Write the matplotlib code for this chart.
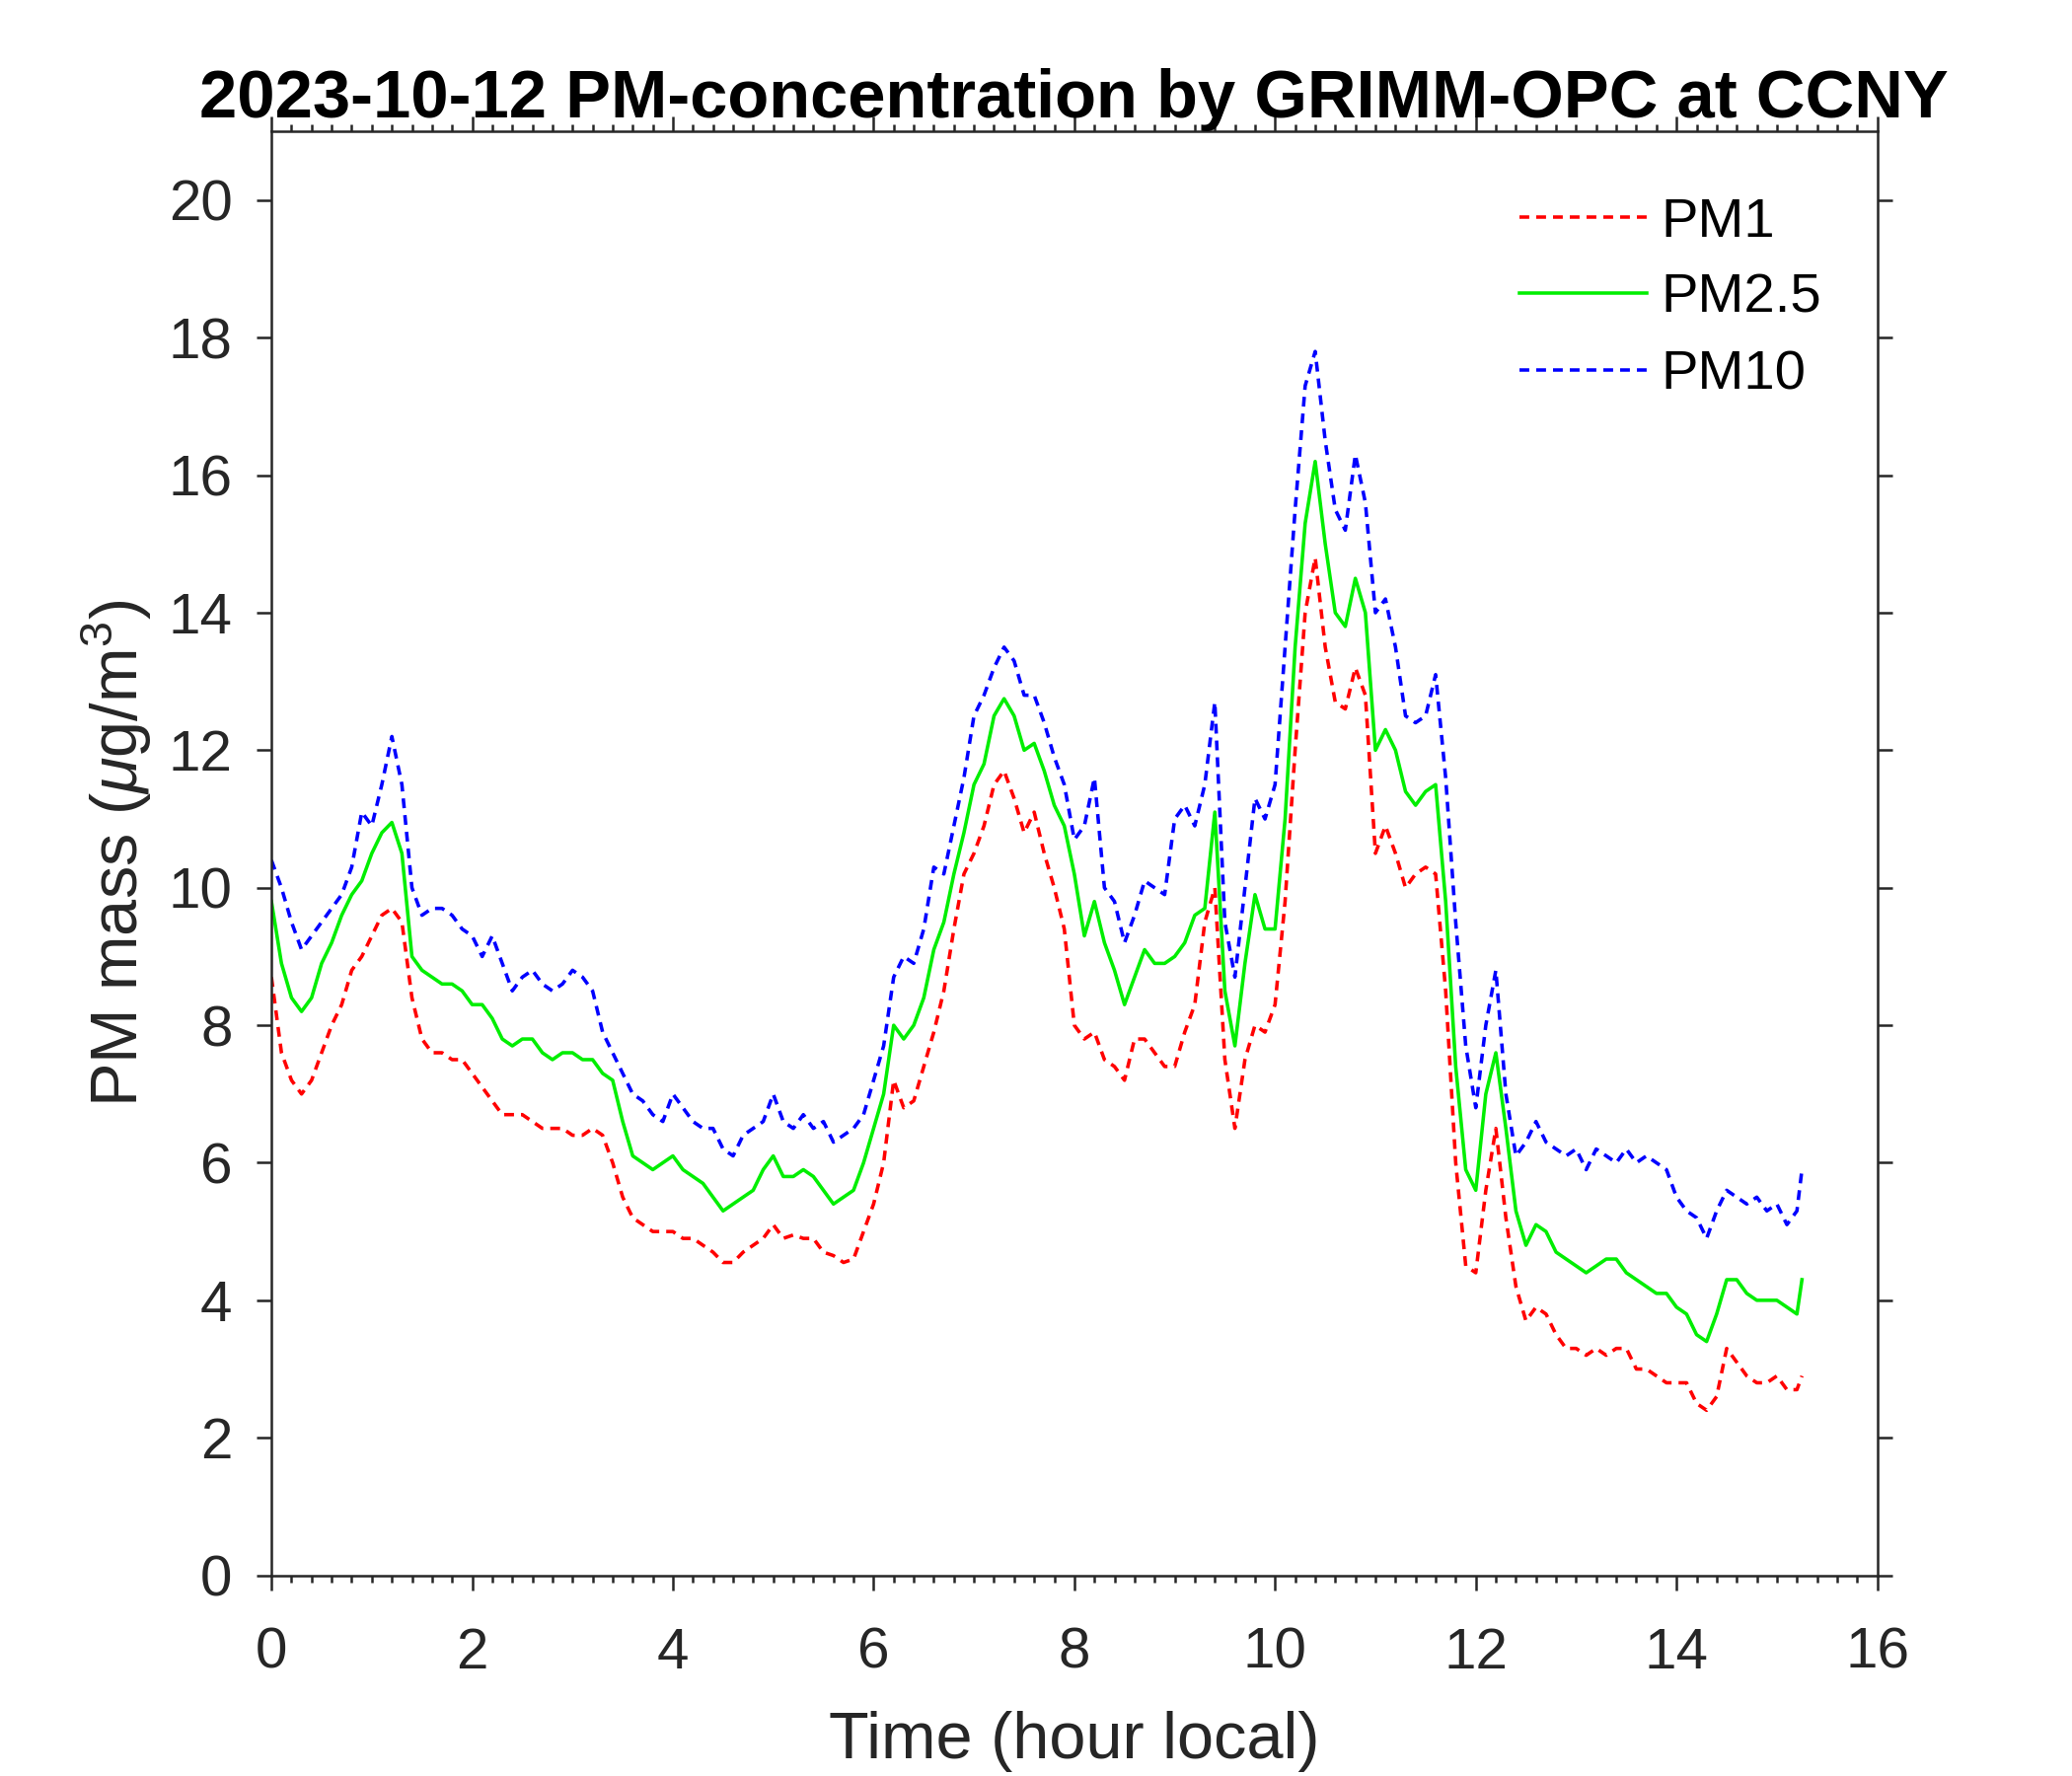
import numpy as np
import matplotlib
matplotlib.use("Agg")
import matplotlib.pyplot as plt
from matplotlib.ticker import MultipleLocator

plt.rcParams['font.family'] = ['Liberation Sans', 'DejaVu Sans']
plt.rcParams['mathtext.fontset'] = 'custom'
plt.rcParams['mathtext.rm'] = 'Liberation Sans'
plt.rcParams['mathtext.it'] = 'Liberation Sans:italic'

# time in hours (local), read every 0.1 h plus the last sample
hours = list(np.round(np.arange(0, 15.25, 0.1), 1)) + [15.25]

pm1 = [8.7, 7.6, 7.2, 7.0, 7.2, 7.6, 8.0, 8.3, 8.8, 9.0,
       9.3, 9.6, 9.7, 9.5, 8.4, 7.8, 7.6, 7.6, 7.5, 7.5,
       7.3, 7.1, 6.9, 6.7, 6.7, 6.7, 6.6, 6.5, 6.5, 6.5,
       6.4, 6.4, 6.5, 6.4, 6.0, 5.5, 5.2, 5.1, 5.0, 5.0,
       5.0, 4.9, 4.9, 4.8, 4.7, 4.55, 4.55, 4.7, 4.8, 4.9,
       5.1, 4.9, 4.95, 4.9, 4.9, 4.7, 4.65, 4.55, 4.6, 5.0,
       5.4, 6.0, 7.2, 6.8, 6.9, 7.4, 7.9, 8.5, 9.4, 10.2,
       10.5, 10.9, 11.5, 11.7, 11.3, 10.8, 11.1, 10.5, 10.0, 9.4,
       8.0, 7.8, 7.9, 7.5, 7.4, 7.2, 7.8, 7.8, 7.6, 7.4,
       7.4, 7.9, 8.3, 9.5, 10.0, 7.5, 6.5, 7.5, 8.0, 7.9,
       8.3, 9.8, 12.0, 14.0, 14.8, 13.5, 12.7, 12.6, 13.2, 12.8,
       10.5, 10.9, 10.5, 10.0, 10.2, 10.3, 10.2, 8.5, 6.0, 4.5,
       4.4, 5.6, 6.5, 5.2, 4.2, 3.7, 3.9, 3.8, 3.5, 3.3,
       3.3, 3.2, 3.3, 3.2, 3.3, 3.3, 3.0, 3.0, 2.9, 2.8,
       2.8, 2.8, 2.5, 2.4, 2.6, 3.3, 3.1, 2.9, 2.8, 2.8,
       2.9, 2.7, 2.7, 2.9]

pm25 = [9.8, 8.9, 8.4, 8.2, 8.4, 8.9, 9.2, 9.6, 9.9, 10.1,
        10.5, 10.8, 10.95, 10.5, 9.0, 8.8, 8.7, 8.6, 8.6, 8.5,
        8.3, 8.3, 8.1, 7.8, 7.7, 7.8, 7.8, 7.6, 7.5, 7.6,
        7.6, 7.5, 7.5, 7.3, 7.2, 6.6, 6.1, 6.0, 5.9, 6.0,
        6.1, 5.9, 5.8, 5.7, 5.5, 5.3, 5.4, 5.5, 5.6, 5.9,
        6.1, 5.8, 5.8, 5.9, 5.8, 5.6, 5.4, 5.5, 5.6, 6.0,
        6.5, 7.0, 8.0, 7.8, 8.0, 8.4, 9.1, 9.5, 10.2, 10.8,
        11.5, 11.8, 12.5, 12.75, 12.5, 12.0, 12.1, 11.7, 11.2, 10.9,
        10.2, 9.3, 9.8, 9.2, 8.8, 8.3, 8.7, 9.1, 8.9, 8.9,
        9.0, 9.2, 9.6, 9.7, 11.1, 8.5, 7.7, 8.9, 9.9, 9.4,
        9.4, 11.0, 13.5, 15.3, 16.2, 15.0, 14.0, 13.8, 14.5, 14.0,
        12.0, 12.3, 12.0, 11.4, 11.2, 11.4, 11.5, 9.8, 7.4, 5.9,
        5.6, 7.0, 7.6, 6.5, 5.3, 4.8, 5.1, 5.0, 4.7, 4.6,
        4.5, 4.4, 4.5, 4.6, 4.6, 4.4, 4.3, 4.2, 4.1, 4.1,
        3.9, 3.8, 3.5, 3.4, 3.8, 4.3, 4.3, 4.1, 4.0, 4.0,
        4.0, 3.9, 3.8, 4.3]

pm10 = [10.4, 10.0, 9.5, 9.1, 9.3, 9.5, 9.7, 9.9, 10.3, 11.1,
        10.9, 11.5, 12.2, 11.5, 10.0, 9.6, 9.7, 9.7, 9.6, 9.4,
        9.3, 9.0, 9.3, 8.9, 8.5, 8.7, 8.8, 8.6, 8.5, 8.6,
        8.8, 8.7, 8.5, 7.9, 7.6, 7.3, 7.0, 6.9, 6.7, 6.6,
        7.0, 6.8, 6.6, 6.5, 6.5, 6.2, 6.1, 6.4, 6.5, 6.6,
        7.0, 6.6, 6.5, 6.7, 6.5, 6.6, 6.3, 6.4, 6.5, 6.7,
        7.2, 7.7, 8.7, 9.0, 8.9, 9.4, 10.3, 10.2, 10.9, 11.6,
        12.5, 12.8, 13.2, 13.5, 13.3, 12.8, 12.8, 12.4, 11.9, 11.5,
        10.7, 10.9, 11.6, 10.0, 9.8, 9.2, 9.6, 10.1, 10.0, 9.9,
        11.0, 11.2, 10.9, 11.5, 12.7, 9.5, 8.7, 10.0, 11.3, 11.0,
        11.5, 13.5, 15.5, 17.3, 17.8, 16.5, 15.5, 15.2, 16.3, 15.6,
        14.0, 14.2, 13.5, 12.5, 12.4, 12.5, 13.1, 11.6, 9.5, 7.7,
        6.8, 8.0, 8.8, 7.0, 6.1, 6.3, 6.6, 6.3, 6.2, 6.1,
        6.2, 5.9, 6.2, 6.1, 6.0, 6.2, 6.0, 6.1, 6.0, 5.9,
        5.5, 5.3, 5.2, 4.9, 5.3, 5.6, 5.5, 5.4, 5.5, 5.3,
        5.4, 5.1, 5.3, 5.9]

fig = plt.figure(figsize=(14, 12), dpi=150)
ax = fig.add_axes([0.131, 0.113, 0.775, 0.813])

dash = (2.8, 2.0)
ax.plot(hours, pm1, color='#ff0000', lw=1.7, ls=(0, dash), label='PM1')
ax.plot(hours, pm25, color='#00ee00', lw=1.7, label='PM2.5')
ax.plot(hours, pm10, color='#0000ff', lw=1.7, ls=(0, dash), label='PM10')

ax.set_xlim(0, 16)
ax.set_ylim(0, 21)
ax.xaxis.set_major_locator(MultipleLocator(2))
ax.xaxis.set_minor_locator(MultipleLocator(0.2))
ax.yaxis.set_major_locator(MultipleLocator(2))

ax.tick_params(which='both', direction='out', top=True, right=True,
               colors='#262626', labelsize=28, width=1.2)
ax.tick_params(which='major', length=7)
ax.tick_params(which='minor', length=3.5)
ax.tick_params(axis='x', which='major', pad=18)
ax.tick_params(axis='y', which='major', pad=12)
for s in ax.spines.values():
    s.set_color('#262626')
    s.set_linewidth(1.2)

ax.set_xlabel('Time (hour local)', fontsize=32, color='#262626', labelpad=15)
ax.set_ylabel(r'PM mass ($\mu$g/m$^3$)', fontsize=32, color='#262626', labelpad=7)
ax.set_title('2023-10-12 PM-concentration by GRIMM-OPC at CCNY',
             fontsize=33, fontweight='bold', pad=4)

ax.legend(loc='upper right', bbox_to_anchor=(0.979, 0.97), frameon=False,
          fontsize=27, handlelength=2.3, handletextpad=0.25,
          labelspacing=0.45, borderaxespad=0)

fig.savefig('out.png', dpi=150)
